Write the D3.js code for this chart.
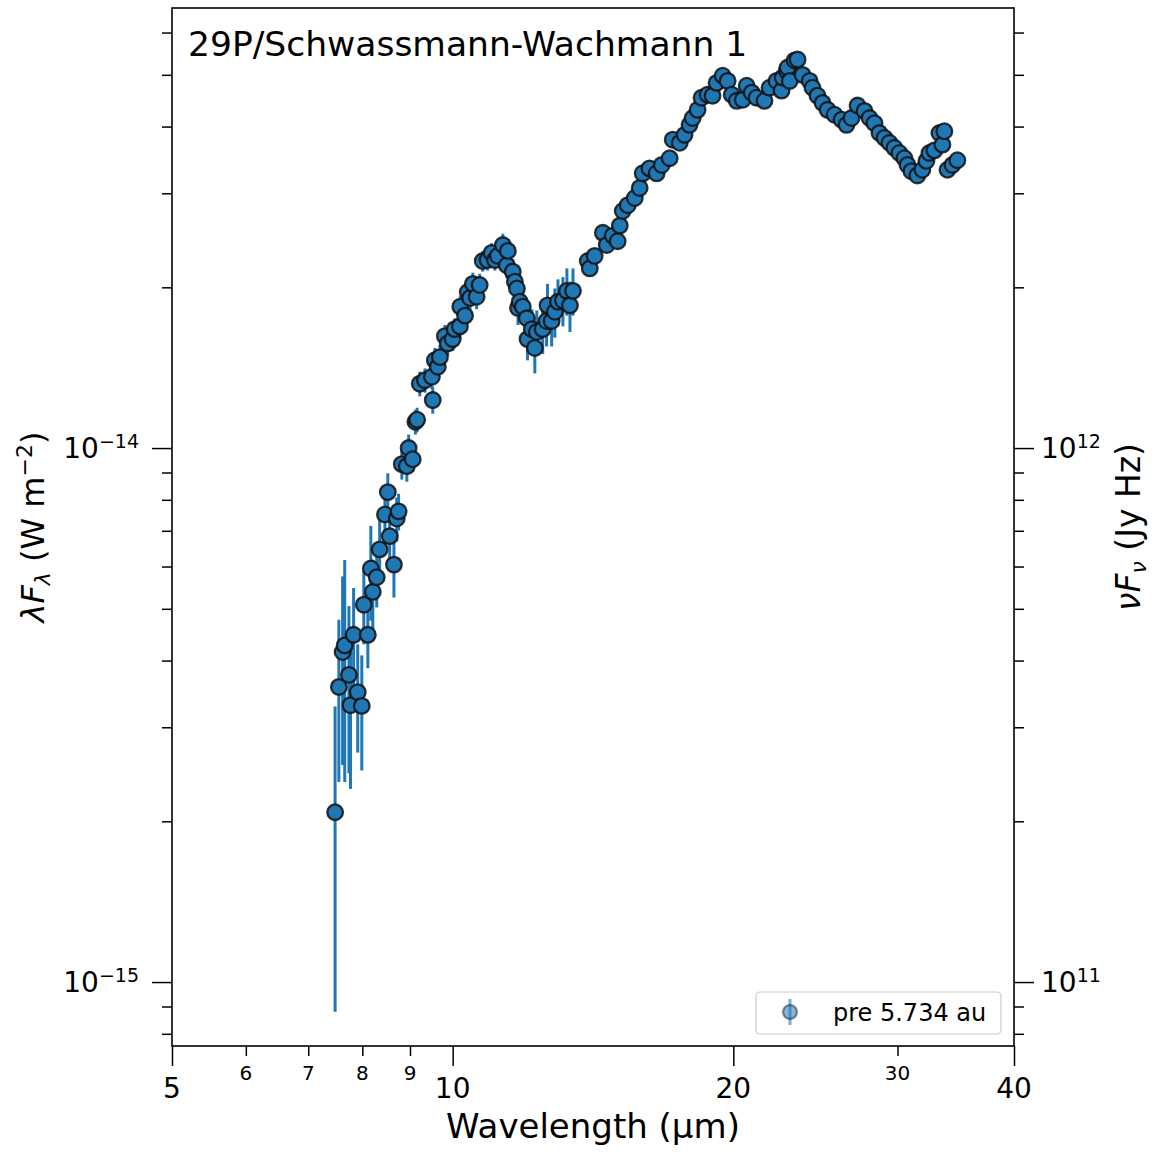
<!DOCTYPE html>
<html>
<head>
<meta charset="utf-8">
<script src="https://cdn.jsdelivr.net/npm/d3@7"></script>
<style>
  body { margin: 0; background: #fff; }
  svg { display: block; font-family: "DejaVu Sans", sans-serif; }
</style>
</head>
<body>
<script>
// spectrum: wavelength in micron, flux and error in 1e-15 W m^-2
var wavelength = [
  7.48, 7.55, 7.62, 7.66, 7.74, 7.77, 7.83, 7.91, 7.99, 8.03,
  8.11, 8.17, 8.21, 8.29, 8.35, 8.46, 8.52, 8.56, 8.65, 8.71,
  8.75, 8.82, 8.93, 8.97, 9.06, 9.12, 9.16, 9.22, 9.34, 9.50,
  9.52, 9.57, 9.64, 9.69, 9.81, 9.88, 10.00, 10.05, 10.18, 10.19,
  10.31, 10.38, 10.44, 10.51, 10.61, 10.69, 10.77, 10.90, 11.01, 11.10,
  11.18, 11.32, 11.43, 11.46, 11.60, 11.66, 11.72, 11.75, 11.80, 11.89,
  12.01, 12.03, 12.16, 12.25, 12.31, 12.49, 12.61, 12.64, 12.77, 12.87,
  12.97, 13.13, 13.26, 13.36, 13.46,
  13.96, 14.03, 14.20, 14.49, 14.63, 14.85, 15.03, 15.11, 15.22, 15.41,
  15.68, 15.87, 15.99, 16.26, 16.55, 16.76, 17.09, 17.22, 17.52, 17.73,
  17.95, 18.09, 18.31, 18.49, 18.77, 19.00, 19.19, 19.48, 19.72, 19.92,
  20.17, 20.47, 20.67, 20.93, 21.18, 21.60, 21.87, 22.25, 22.53, 22.59,
  22.82, 22.87, 22.99, 23.27, 23.44, 23.73, 24.15, 24.32, 24.62, 24.93,
  25.24, 25.68, 26.13, 26.45, 26.78, 27.18, 27.65, 28.00, 28.34, 28.69,
  29.05, 29.41, 29.77, 30.14, 30.52, 30.75, 31.05, 31.51, 31.90, 32.22,
  32.46, 32.86, 33.27, 33.52, 33.68, 33.94, 34.36, 34.78
];
var flux = [
  2.08, 3.57, 4.15, 4.27, 3.76, 3.30, 4.47, 3.49, 3.29, 5.09,
  4.47, 5.95, 5.38, 5.73, 6.46, 7.51, 8.27, 6.84, 6.05, 7.38,
  7.61, 9.33, 9.25, 10.0, 9.53, 11.2, 11.3, 13.2, 13.4, 13.6,
  12.3, 14.6, 14.2, 14.8, 16.2, 15.7, 16.0, 16.7, 16.9, 18.4,
  17.7, 19.6, 19.1, 20.3, 19.2, 20.2, 22.4, 22.5, 23.2, 22.5,
  22.9, 24.0, 22.0, 23.4, 21.4, 20.5, 19.9, 18.3, 18.8, 18.4,
  17.5, 16.0, 16.7, 15.4, 16.5, 16.7, 17.3, 18.5, 17.3, 18.0,
  18.8, 18.9, 19.7, 18.5, 19.7,
  22.4, 21.7, 22.9, 25.3, 24.0, 25.0, 24.4, 26.1, 27.8, 28.5,
  29.4, 30.7, 32.7, 33.4, 32.7, 33.9, 34.9, 37.8, 37.3, 38.6,
  40.3, 41.5, 43.0, 45.3, 45.9, 45.7, 48.3, 49.8, 48.7, 45.9,
  44.7, 44.9, 47.7, 46.3, 45.3, 44.7, 47.3, 48.7, 46.7, 49.4,
  50.9, 51.6, 48.7, 53.2, 53.4, 50.0, 48.7, 47.3, 45.7, 44.3,
  43.0, 42.1, 41.2, 40.3, 41.5, 43.8, 42.8, 41.5, 40.6, 38.9,
  38.1, 37.3, 36.5, 35.7, 34.9, 33.9, 33.0, 32.4, 33.2, 34.5,
  35.7, 36.1, 38.9, 37.0, 39.2, 33.2, 33.9, 34.6
];
var fluxErr = [
  1.2, 1.2, 1.6, 1.9, 1.3, 1.0, 1.0, 0.8, 0.8, 0.8,
  0.6, 1.2, 0.8, 0.7, 0.9, 0.9, 0.7, 0.8, 0.8, 0.7,
  0.6, 0.6, 0.6, 0.6, 0.5, 0.6, 0.6, 0.7, 0.7, 0.7,
  0.7, 0.8, 0.8, 0.8, 0.8, 0.8, 0.8, 0.8, 0.9, 0.9,
  0.9, 0.9, 0.9, 1.0, 1.0, 1.0, 1.0, 1.0, 1.0, 1.0,
  1.0, 1.2, 1.2, 1.2, 1.2, 1.2, 1.3, 1.3, 1.3, 1.3,
  1.4, 1.4, 1.5, 1.6, 1.6, 1.7, 1.8, 1.8, 1.8, 1.9,
  1.9, 2.0, 2.0, 2.0, 2.0,
  0.6, 0.6, 0.6, 0.5, 0.5, 0.5, 0.5, 0.5, 0.5, 0.5,
  0.5, 0.5, 0.5, 0.5, 0.5, 0.5, 0.5, 0.5, 0.5, 0.5,
  0.5, 0.5, 0.5, 0.5, 0.5, 0.5, 0.5, 0.5, 0.5, 0.5,
  0.5, 0.5, 0.5, 0.5, 0.5, 0.5, 0.5, 0.5, 0.5, 0.5,
  0.5, 0.5, 0.5, 0.5, 0.5, 0.5, 0.5, 0.5, 0.5, 0.5,
  0.5, 0.5, 0.5, 0.5, 0.5, 0.5, 0.5, 0.5, 0.5, 0.5,
  0.5, 0.5, 0.5, 0.5, 0.5, 0.5, 0.5, 0.5, 0.5, 0.5,
  0.5, 0.5, 0.5, 0.5, 0.5, 0.5, 0.5, 0.5
];
var fluxUnit = 1e-15;          // W m^-2
var jyHzPerWm2 = 1e26;         // 1 W m^-2 = 1e26 Jy Hz

var xMajorTicks = [5, 10, 20, 40];
var xMinorTicks = [6, 7, 8, 9, 30];
var leftExponents = [-15, -14];
var rightExponents = [11, 12];

var title = "29P/Schwassmann-Wachmann 1";
var legendLabel = "pre 5.734 au";

var width = 1159, height = 1154;
var plotLeft = 172, plotRight = 1014, plotTop = 8, plotBottom = 1046;
var blue = "#1f77b4";

var svg = d3.select("body").append("svg")
    .attr("width", width)
    .attr("height", height);

var x = d3.scaleLog().domain([5, 40]).range([plotLeft, plotRight]);
var y = d3.scaleLog().domain([7.59e-16, 6.67e-14]).range([plotBottom, plotTop]);
var y2 = d3.scaleLog()
    .domain(y.domain().map(function(v) { return v * jyHzPerWm2; }))
    .range([plotBottom, plotTop]);

var data = wavelength.map(function(w, i) {
  return { w: w, f: flux[i] * fluxUnit, e: fluxErr[i] * fluxUnit };
});

// error bars under the markers
svg.append("g").selectAll("line")
    .data(data)
  .enter().append("line")
    .attr("x1", function(d) { return x(d.w); })
    .attr("x2", function(d) { return x(d.w); })
    .attr("y1", function(d) { return y(d.f + d.e); })
    .attr("y2", function(d) { return y(Math.max(d.f - d.e, 1e-17)); })
    .attr("stroke", blue)
    .attr("stroke-width", 3);

svg.append("g").selectAll("circle")
    .data(data)
  .enter().append("circle")
    .attr("cx", function(d) { return x(d.w); })
    .attr("cy", function(d) { return y(d.f); })
    .attr("r", 7.8)
    .attr("fill", blue)
    .attr("stroke", "#111")
    .attr("stroke-opacity", 0.85)
    .attr("stroke-width", 2.3);

// frame
svg.append("rect")
    .attr("x", plotLeft).attr("y", plotTop)
    .attr("width", plotRight - plotLeft).attr("height", plotBottom - plotTop)
    .attr("fill", "none").attr("stroke", "#000").attr("stroke-width", 1.6);

function styleAxis(g) {
  g.select(".domain").remove();
  g.selectAll(".tick line").attr("stroke", "#000").attr("stroke-width", 1.5);
  g.selectAll(".tick text").remove();
}

// bottom axis
svg.append("g").attr("transform", "translate(0," + plotBottom + ")")
    .call(d3.axisBottom(x).tickValues(xMajorTicks).tickSize(20).tickFormat(""))
    .call(styleAxis);
svg.append("g").attr("transform", "translate(0," + plotBottom + ")")
    .call(d3.axisBottom(x).tickValues(xMinorTicks).tickSize(10).tickFormat(""))
    .call(styleAxis);

svg.append("g").selectAll("text")
    .data(xMajorTicks)
  .enter().append("text")
    .attr("x", function(d) { return x(d); })
    .attr("y", 1098)
    .attr("text-anchor", "middle")
    .attr("font-size", 28)
    .text(function(d) { return d; });
svg.append("g").selectAll("text")
    .data(xMinorTicks)
  .enter().append("text")
    .attr("x", function(d) { return x(d); })
    .attr("y", 1080)
    .attr("text-anchor", "middle")
    .attr("font-size", 20)
    .text(function(d) { return d; });

// left and right log axes
var isMajor = function(v) { return Math.abs(Math.log10(v) - Math.round(Math.log10(v))) < 1e-6; };
var leftMinor = y.ticks().filter(function(v) { return !isMajor(v); });
var rightMinor = y2.ticks().filter(function(v) { return !isMajor(v); });

svg.append("g").attr("transform", "translate(" + plotLeft + ",0)")
    .call(d3.axisLeft(y).tickValues(leftExponents.map(function(e) { return Math.pow(10, e); })).tickSize(20))
    .call(styleAxis);
svg.append("g").attr("transform", "translate(" + plotLeft + ",0)")
    .call(d3.axisLeft(y).tickValues(leftMinor).tickSize(10))
    .call(styleAxis);
svg.append("g").attr("transform", "translate(" + plotRight + ",0)")
    .call(d3.axisRight(y2).tickValues(rightExponents.map(function(e) { return Math.pow(10, e); })).tickSize(20))
    .call(styleAxis);
svg.append("g").attr("transform", "translate(" + plotRight + ",0)")
    .call(d3.axisRight(y2).tickValues(rightMinor).tickSize(10))
    .call(styleAxis);

function powerLabel(sel, xPos, anchor, exponent, yPos) {
  var t = sel.append("text")
      .attr("x", xPos).attr("y", yPos + 10)
      .attr("text-anchor", anchor)
      .attr("font-size", 28);
  t.append("tspan").text("10");
  t.append("tspan").attr("dy", -10).attr("font-size", 19)
      .text(exponent < 0 ? "\u2212" + (-exponent) : exponent);
}
leftExponents.forEach(function(e) {
  powerLabel(svg, 139, "end", e, y(Math.pow(10, e)));
});
rightExponents.forEach(function(e) {
  powerLabel(svg, 1041, "start", e, y2(Math.pow(10, e)));
});

// axis titles
svg.append("text")
    .attr("x", (plotLeft + plotRight) / 2)
    .attr("y", 1138)
    .attr("text-anchor", "middle")
    .attr("font-size", 34)
    .text("Wavelength (\u00b5m)");

var yl = svg.append("text")
    .attr("transform", "translate(44," + (plotTop + plotBottom) / 2 + ") rotate(-90)")
    .attr("text-anchor", "middle")
    .attr("font-size", 32);
yl.append("tspan").attr("font-style", "italic").text("\u03bbF");
yl.append("tspan").attr("font-style", "italic").attr("font-size", 22).attr("dy", 6).text("\u03bb");
yl.append("tspan").attr("dy", -6).text(" (W m");
yl.append("tspan").attr("font-size", 22).attr("dy", -12).text("\u22122");
yl.append("tspan").attr("dy", 12).text(")");

var yr = svg.append("text")
    .attr("transform", "translate(1140," + (plotTop + plotBottom) / 2 + ") rotate(-90)")
    .attr("text-anchor", "middle")
    .attr("font-size", 33);
yr.append("tspan").attr("font-style", "italic").text("\u03bdF");
yr.append("tspan").attr("font-style", "italic").attr("font-size", 22).attr("dy", 6).text("\u03bd");
yr.append("tspan").attr("dy", -6).text(" (Jy Hz)");

// title inside the axes
svg.append("text")
    .attr("x", 188).attr("y", 56)
    .attr("font-size", 34.5)
    .text(title);

// legend
var lg = svg.append("g");
lg.append("rect")
    .attr("x", 756).attr("y", 992).attr("width", 245).attr("height", 42)
    .attr("rx", 4)
    .attr("fill", "#fff").attr("fill-opacity", 0.8)
    .attr("stroke", "#ccc").attr("stroke-width", 1.2);
lg.append("line")
    .attr("x1", 790).attr("x2", 790).attr("y1", 999).attr("y2", 1025)
    .attr("stroke", blue).attr("stroke-width", 3).attr("stroke-opacity", 0.6);
lg.append("circle")
    .attr("cx", 790).attr("cy", 1012).attr("r", 7)
    .attr("fill", blue).attr("fill-opacity", 0.55)
    .attr("stroke", "#111").attr("stroke-opacity", 0.45).attr("stroke-width", 2.2);
lg.append("text")
    .attr("x", 833).attr("y", 1021)
    .attr("font-size", 24)
    .text(legendLabel);
</script>
</body>
</html>
